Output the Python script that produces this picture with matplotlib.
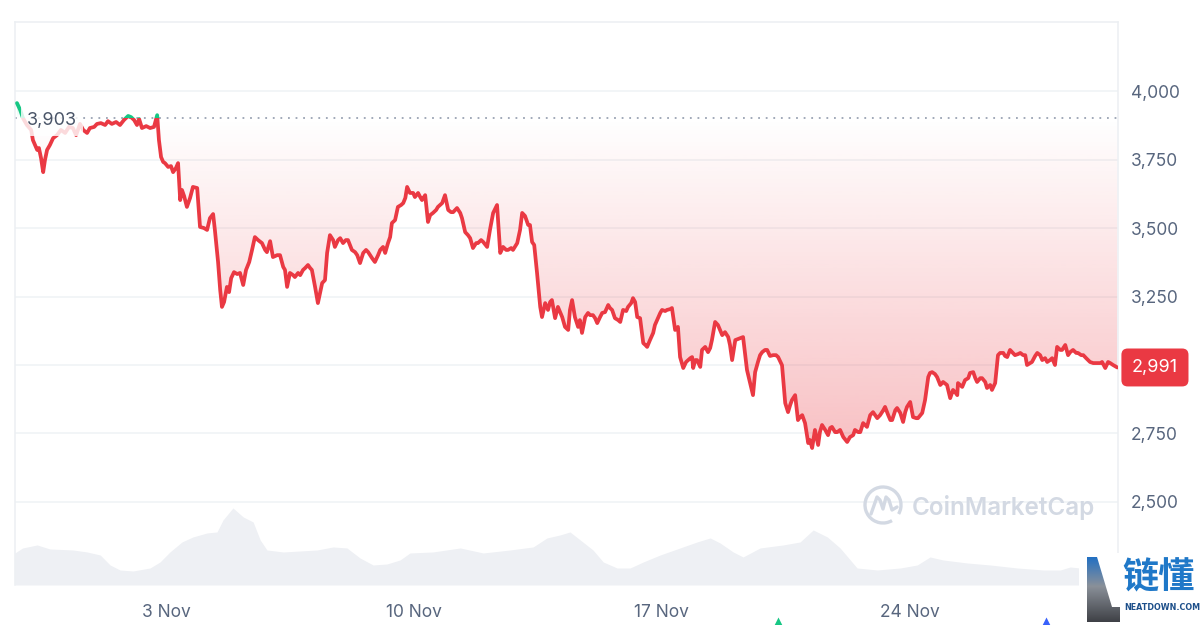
import datetime as dt
import numpy as np
import matplotlib
matplotlib.use("Agg")
import matplotlib.pyplot as plt
import matplotlib.dates as mdates
import matplotlib.transforms as mtransforms
from matplotlib.path import Path
from matplotlib.patches import Rectangle, Arc, Polygon
from matplotlib.colors import to_rgb

# ---------------- data ----------------
# days after 31 Oct 2025 00:00 ; price in USD
days = [
    -1.21, -1.12, -1.04, -0.93, -0.81, -0.76, -0.70, -0.64, -0.59, -0.53, -0.47, -0.42, -0.36, -0.28,
    -0.19, -0.08, 0.03, 0.15, 0.26, 0.37, 0.46, 0.57, 0.66, 0.77, 0.85, 0.97, 1.05, 1.16, 1.28, 1.36,
    1.47, 1.59, 1.70, 1.81, 1.93, 2.01, 2.10, 2.18, 2.24, 2.32, 2.44, 2.55, 2.66, 2.75, 2.80, 2.86,
    2.92, 2.97, 3.06, 3.14, 3.20, 3.28, 3.34, 3.40, 3.45, 3.51, 3.59, 3.68, 3.76, 3.88, 3.96, 4.07,
    4.16, 4.24, 4.33, 4.38, 4.47, 4.53, 4.58, 4.64, 4.72, 4.78, 4.84, 4.92, 5.01, 5.09, 5.18, 5.26,
    5.35, 5.43, 5.51, 5.60, 5.71, 5.80, 5.85, 5.94, 6.02, 6.14, 6.22, 6.31, 6.36, 6.42, 6.50, 6.59,
    6.64, 6.73, 6.79, 6.87, 6.93, 7.01, 7.07, 7.12, 7.21, 7.29, 7.35, 7.41, 7.49, 7.55, 7.63, 7.72,
    7.77, 7.86, 7.92, 8.00, 8.08, 8.14, 8.25, 8.34, 8.40, 8.48, 8.57, 8.65, 8.71, 8.82, 8.90, 8.99,
    9.05, 9.13, 9.19, 9.27, 9.33, 9.38, 9.47, 9.55, 9.64, 9.70, 9.76, 9.81, 9.89, 9.98, 10.03, 10.12,
    10.18, 10.23, 10.32, 10.40, 10.46, 10.54, 10.63, 10.68, 10.80, 10.88, 10.97, 11.05, 11.11, 11.22,
    11.31, 11.36, 11.45, 11.53, 11.59, 11.67, 11.76, 11.81, 11.90, 11.96, 12.07, 12.15, 12.24, 12.35,
    12.44, 12.52, 12.61, 12.66, 12.75, 12.80, 12.92, 13.00, 13.06, 13.14, 13.23, 13.28, 13.34, 13.40,
    13.48, 13.57, 13.62, 13.71, 13.79, 13.85, 13.90, 13.99, 14.07, 14.19, 14.27, 14.36, 14.41, 14.47,
    14.55, 14.64, 14.69, 14.75, 14.84, 14.92, 14.98, 15.06, 15.12, 15.18, 15.26, 15.32, 15.40, 15.49,
    15.54, 15.60, 15.68, 15.77, 15.83, 15.91, 16.00, 16.05, 16.14, 16.19, 16.25, 16.31, 16.39, 16.48,
    16.54, 16.59, 16.67, 16.76, 16.81, 16.87, 16.96, 17.01, 17.10, 17.15, 17.24, 17.29, 17.38, 17.46,
    17.52, 17.61, 17.69, 17.75, 17.81, 17.86, 17.89, 17.95, 18.00, 18.09, 18.14, 18.23, 18.31, 18.37,
    18.42, 18.51, 18.59, 18.65, 18.71, 18.79, 18.88, 18.93, 18.99, 19.08, 19.16, 19.22, 19.30, 19.36,
    19.41, 19.50, 19.58, 19.64, 19.72, 19.78, 19.84, 19.92, 19.98, 20.06, 20.15, 20.23, 20.29, 20.40,
    20.49, 20.57, 20.63, 20.68, 20.77, 20.85, 20.91, 20.97, 21.05, 21.14, 21.19, 21.25, 21.33, 21.42,
    21.47, 21.53, 21.62, 21.70, 21.76, 21.81, 21.90, 21.96, 22.04, 22.13, 22.24, 22.32, 22.41, 22.46,
    22.55, 22.61, 22.69, 22.80, 22.89, 22.97, 23.09, 23.17, 23.26, 23.31, 23.40, 23.46, 23.51, 23.60,
    23.65, 23.74, 23.82, 23.88, 23.93, 24.02, 24.10, 24.19, 24.24, 24.36, 24.44, 24.53, 24.58, 24.64,
    24.72, 24.78, 24.87, 24.95, 25.06, 25.15, 25.23, 25.29, 25.35, 25.37, 25.49, 25.57, 25.66, 25.71,
    25.80, 25.86, 25.91, 26.00, 26.05, 26.14, 26.19, 26.28, 26.33, 26.42, 26.50, 26.56, 26.65, 26.70,
    26.76, 26.84, 26.90, 26.98, 27.07, 27.13, 27.21, 27.27, 27.32, 27.41, 27.46, 27.55, 27.61, 27.69,
    27.75, 27.83, 27.89, 27.97, 28.03, 28.11, 28.17, 28.26, 28.31, 28.40, 28.48, 28.54, 28.62, 28.71,
    28.76, 28.85, 28.91, 28.99, 29.10, 29.19, 29.30, 29.39, 29.44, 29.53, 29.61, 29.67, 29.75, 29.87,
]
prices = [
    3956, 3931, 3901, 3876, 3858, 3821, 3803, 3785, 3792, 3755, 3704, 3748, 3785, 3803,
    3828, 3839, 3858, 3847, 3869, 3865, 3839, 3880, 3858, 3847, 3865, 3869, 3880, 3883, 3876, 3890,
    3880, 3887, 3876, 3894, 3909, 3905, 3894, 3876, 3898, 3865, 3872, 3865, 3869, 3912, 3821, 3759,
    3741, 3737, 3723, 3726, 3704, 3719, 3737, 3602, 3639, 3617, 3577, 3610, 3650, 3646, 3504, 3500,
    3493, 3536, 3551, 3493, 3376, 3274, 3212, 3230, 3285, 3266, 3317, 3339, 3332, 3336, 3292, 3347,
    3376, 3420, 3467, 3456, 3445, 3420, 3412, 3452, 3394, 3401, 3401, 3358, 3347, 3285, 3336, 3328,
    3321, 3336, 3328, 3347, 3354, 3365, 3354, 3347, 3285, 3226, 3263, 3299, 3310, 3409, 3474, 3456,
    3431, 3456, 3463, 3445, 3456, 3456, 3420, 3412, 3401, 3372, 3409, 3420, 3412, 3390, 3376, 3401,
    3420, 3431, 3409, 3445, 3467, 3518, 3529, 3577, 3584, 3591, 3610, 3650, 3628, 3628, 3613, 3628,
    3613, 3602, 3620, 3522, 3547, 3555, 3566, 3577, 3591, 3620, 3566, 3558, 3558, 3573,
    3555, 3536, 3485, 3474, 3463, 3427, 3445, 3445, 3456, 3449, 3431, 3493, 3555, 3584,
    3409, 3431, 3420, 3420, 3427, 3420, 3445, 3493, 3555, 3544, 3511, 3511, 3449, 3438,
    3336, 3212, 3175, 3226, 3201, 3230, 3237, 3171, 3212, 3175, 3139, 3128, 3201, 3237,
    3175, 3139, 3164, 3117, 3175, 3190, 3182, 3182, 3171, 3153, 3175, 3190, 3193, 3219,
    3208, 3201, 3171, 3164, 3157, 3201, 3197, 3212, 3226, 3244, 3230, 3175, 3171, 3080,
    3073, 3066, 3091, 3117, 3146, 3164, 3190, 3201, 3197, 3201, 3204, 3208, 3128, 3139,
    3029, 2989, 3011, 3018, 3025, 3029, 2989, 3018, 3018, 2993, 3055, 3066, 3047, 3062,
    3091, 3157, 3146, 3128, 3109, 3120, 3102, 3073, 3018, 3091, 3095, 3098, 3102, 3036,
    2982, 2934, 2890, 2974, 3011, 3036, 3047, 3055, 3055, 3033, 3036, 3036, 3029, 2999,
    2861, 2828, 2854, 2872, 2890, 2799, 2810, 2817, 2788, 2715, 2726, 2697, 2763, 2708,
    2755, 2781, 2763, 2744, 2770, 2774, 2755, 2755, 2763, 2737, 2719, 2737, 2744, 2763,
    2755, 2755, 2788, 2774, 2817, 2828, 2806, 2817, 2835, 2847, 2817, 2799, 2799, 2835,
    2843, 2825, 2792, 2828, 2847, 2865, 2810, 2806, 2806, 2825, 2872, 2956, 2971, 2974,
    2967, 2956, 2927, 2938, 2927, 2879, 2909, 2901, 2890, 2934, 2920, 2945, 2952, 2971,
    2974, 2952, 2938, 2952, 2952, 2938, 2916, 2927, 2909, 2934, 3036, 3044, 3044, 3033,
    3029, 3055, 3047, 3036, 3040, 3044, 3036, 3036, 3000, 3007, 3011, 3033, 3044, 3036,
    3018, 3025, 3011, 3018, 3025, 3000, 3066, 3055, 3055, 3073, 3036, 3047, 3055, 3044,
    3044, 3036, 3036, 3025, 3011, 3007, 3007, 3007, 3011, 2989, 3011, 3007, 3000, 2991,
]

# volume (billions USD), days after 31 Oct 2025
vol_days = [
    -1.27, -1.05, -0.64, -0.28, 0.37, 0.77, 1.14, 1.42, 1.70, 2.07, 2.55, 2.83, 3.11, 3.45, 3.76,
    4.16, 4.44, 4.61, 4.89, 5.18, 5.46, 5.66, 5.85, 6.31, 7.27, 7.72, 8.11, 8.48, 8.85, 9.24, 9.61,
    9.89, 10.54, 11.31, 11.96, 12.72, 13.37, 13.76, 14.13, 14.41, 14.70, 15.06, 15.35, 15.74, 16.11,
    16.48, 16.96, 17.52, 18.00, 18.37, 18.65, 19.02, 19.30, 19.78, 20.43, 20.91, 21.28, 21.68, 22.04,
    22.52, 23.09, 23.74, 24.22, 24.58, 24.95, 25.63, 26.28, 27.04, 27.78, 28.26, 28.54, 28.82, 29.87,
]
vol_bn = [
    25.6, 29.6, 32.0, 28.8, 28.0, 26.4, 24.0, 16.0, 12.0, 11.2, 13.6, 18.4, 26.4, 34.4, 38.4,
    41.6, 42.4, 52.0, 61.6, 54.4, 50.4, 36.0, 28.0, 26.4, 28.0, 30.4, 29.6, 21.6, 16.0, 16.8, 20.0,
    25.6, 26.4, 29.6, 25.6, 28.0, 30.4, 37.6, 40.0, 42.4, 36.0, 28.0, 18.4, 13.6, 13.6,
    18.4, 24.0, 29.6, 34.4, 37.6, 33.6, 26.4, 22.4, 29.6, 32.0, 34.4, 44.0, 38.4, 29.6,
    13.6, 12.0, 13.6, 16.0, 22.4, 20.0, 17.6, 16.0, 13.6, 12.0, 12.0, 14.4, 13.6, 13.6,
]

open_price = 3903
last_price = 2991
y_ticks = [2500, 2750, 3000, 3250, 3500, 3750, 4000]
x_tick_days = [3, 10, 17, 24]
x_tick_labels = ["3 Nov", "10 Nov", "17 Nov", "24 Nov"]

# ---------------- style ----------------
RED = "#ea3943"
GREEN = "#16c784"
GRID = "#eff2f5"
TXT = "#58667e"
VOL = "#eef0f4"
FONT = ["Inter", "DejaVu Sans"]
plt.rcParams["font.family"] = FONT

base = mdates.date2num(dt.datetime(2025, 10, 31))
x = base + np.array(days, dtype=float)
p = np.array(prices, dtype=float)
xv = base + np.array(vol_days, dtype=float)
xmin, xmax = base - 1.266, base + 29.89
ymin, ymax = 2197, 4252

fig = plt.figure(figsize=(12, 6.25), dpi=100)
fig.patch.set_facecolor("white")
rect = [15 / 1200, 1 - 585 / 625, 1103 / 1200, 563 / 625]

# volume axes (behind)
axv = fig.add_axes(rect, zorder=0)
axv.fill_between(xv, 0, vol_bn, color=VOL, lw=0)
axv.set_xlim(xmin, xmax)
axv.set_ylim(0, 450)
axv.axis("off")

# price axes
ax = fig.add_axes(rect, zorder=1)
ax.patch.set_alpha(0)
ax.set_xlim(xmin, xmax)
ax.set_ylim(ymin, ymax)

for yt in y_ticks:
    ax.axhline(yt, color=GRID, lw=1.1, zorder=0)

for side in ["left", "top", "right"]:
    ax.spines[side].set_color("#eceff3")
    ax.spines[side].set_linewidth(1.1)
ax.spines["bottom"].set_visible(False)

ax.yaxis.tick_right()
ax.set_yticks(y_ticks)
ax.set_yticklabels([f"{v:,}" for v in y_ticks])
ax.tick_params(axis="y", length=0, pad=9, labelsize=12.5, labelcolor=TXT)
ax.set_xticks(base + np.array(x_tick_days, dtype=float))
ax.set_xticklabels(x_tick_labels)
ax.tick_params(axis="x", length=0, pad=14, labelsize=12.5, labelcolor=TXT)

# gradient fill between baseline and price
red_rgb = to_rgb(RED)
grad = np.zeros((256, 1, 4))
grad[..., :3] = red_rgb
grad[:, 0, 3] = np.linspace(0.33, 0.0, 256)
im = ax.imshow(grad, extent=[xmin, xmax, 2650, open_price], origin="lower",
               aspect="auto", zorder=1, interpolation="bilinear")
low = np.minimum(p, open_price)
verts = [(x[0], open_price)] + list(zip(x, low)) + [(x[-1], open_price), (x[0], open_price)]
im.set_clip_path(Path(verts), ax.transData)

g_rgb = to_rgb(GREEN)
gg = np.zeros((64, 1, 4))
gg[..., :3] = g_rgb
gg[:, 0, 3] = np.linspace(0.0, 0.25, 64)
im2 = ax.imshow(gg, extent=[xmin, xmax, open_price, 3970], origin="lower",
                aspect="auto", zorder=1)
high = np.maximum(p, open_price)
verts2 = [(x[0], open_price)] + list(zip(x, high)) + [(x[-1], open_price), (x[0], open_price)]
im2.set_clip_path(Path(verts2), ax.transData)
ax.set_xlim(xmin, xmax)
ax.set_ylim(ymin, ymax)

# baseline
ax.axhline(open_price, color="#9aa3b3", lw=1.3, ls=(0, (1, 3.2)), zorder=2)

# price line: red below baseline, green above
l_red, = ax.plot(x, p, color=RED, lw=2.7, solid_joinstyle="round", solid_capstyle="round", zorder=3)
l_red.set_clip_path(Rectangle((xmin, ymin), xmax - xmin, open_price - ymin, transform=ax.transData))
l_grn, = ax.plot(x, p, color=GREEN, lw=2.7, solid_joinstyle="round", solid_capstyle="round", zorder=3)
l_grn.set_clip_path(Rectangle((xmin, open_price), xmax - xmin, ymax - open_price, transform=ax.transData))

# open price label
trans = mtransforms.blended_transform_factory(ax.transAxes, ax.transData)
ax.text(0.0109, open_price - 12, f"{open_price:,}", transform=trans, ha="left", va="center",
        fontsize=13, color="#4a5568", zorder=4,
        bbox=dict(boxstyle="square,pad=0.35", fc="white", ec="none", alpha=0.82))

# last price badge
ax.text(1.0335, last_price, f"{last_price:,}", transform=trans, ha="center", va="center",
        fontsize=13, color="white", zorder=6, clip_on=False,
        bbox=dict(boxstyle="round,pad=0.58,rounding_size=0.35", fc=RED, ec="none"))

# ---------------- overlay (watermark & logo) ----------------
ov = fig.add_axes([0, 0, 1, 1], zorder=5)
ov.set_xlim(0, 1200)
ov.set_ylim(625, 0)
ov.axis("off")
ov.patch.set_alpha(0)

WM = "#d3d9e3"
ov.add_patch(Arc((883, 505), 36, 36, theta1=60, theta2=390, color=WM, lw=2.4))
ov.plot([871, 877, 880, 883, 886, 889, 892, 897],
        [514, 497, 500, 509, 497, 500, 510, 507], color=WM, lw=2.4,
        solid_joinstyle="round", solid_capstyle="round")
ov.text(912, 507, "CoinMarketCap", fontsize=17.5, fontweight="semibold", color=WM,
        ha="left", va="center")

# bottom-right logo
ov.add_patch(Rectangle((1079, 553), 121, 72, fc="white", ec="none", zorder=1))
lg = np.zeros((100, 1, 4))
top_c = np.array(to_rgb("#1f6fc4"))
mid_c = np.array(to_rgb("#8a9099"))
bot_c = np.array(to_rgb("#3d3f44"))
for i in range(100):
    f = i / 99
    if f < 0.45:
        c = top_c + (mid_c - top_c) * (f / 0.45)
    else:
        c = mid_c + (bot_c - mid_c) * ((f - 0.45) / 0.55)
    lg[i, 0, :3] = c
    lg[i, 0, 3] = 1
imL = ov.imshow(lg, extent=[1085, 1121, 623, 556], aspect="auto", zorder=2)
Lpoly = Polygon([(1087, 557), (1097, 557), (1112, 607), (1120, 607), (1120, 622), (1087, 622)],
                closed=True, transform=ov.transData)
imL.set_clip_path(Lpoly)
ov.set_xlim(0, 1200)
ov.set_ylim(625, 0)
ov.text(1158, 578, "链懂", fontsize=26, color="#1f78c8", fontweight="bold",
        family=["Noto Sans CJK SC", "DejaVu Sans"], ha="center", va="center", zorder=3)
ov.text(1162, 607, "NEATDOWN.COM", fontsize=5.8, color="#1d4f8a", fontweight="bold",
        family=["DejaVu Sans"], ha="center", va="center", zorder=3)

# event markers at bottom edge
ov.plot([778], [622], marker="^", ms=7, color=GREEN, mec="none", clip_on=False)
ov.plot([1046], [622], marker="^", ms=7, color="#3861fb", mec="none", clip_on=False)

fig.savefig("out.png", dpi=100, facecolor="white")
